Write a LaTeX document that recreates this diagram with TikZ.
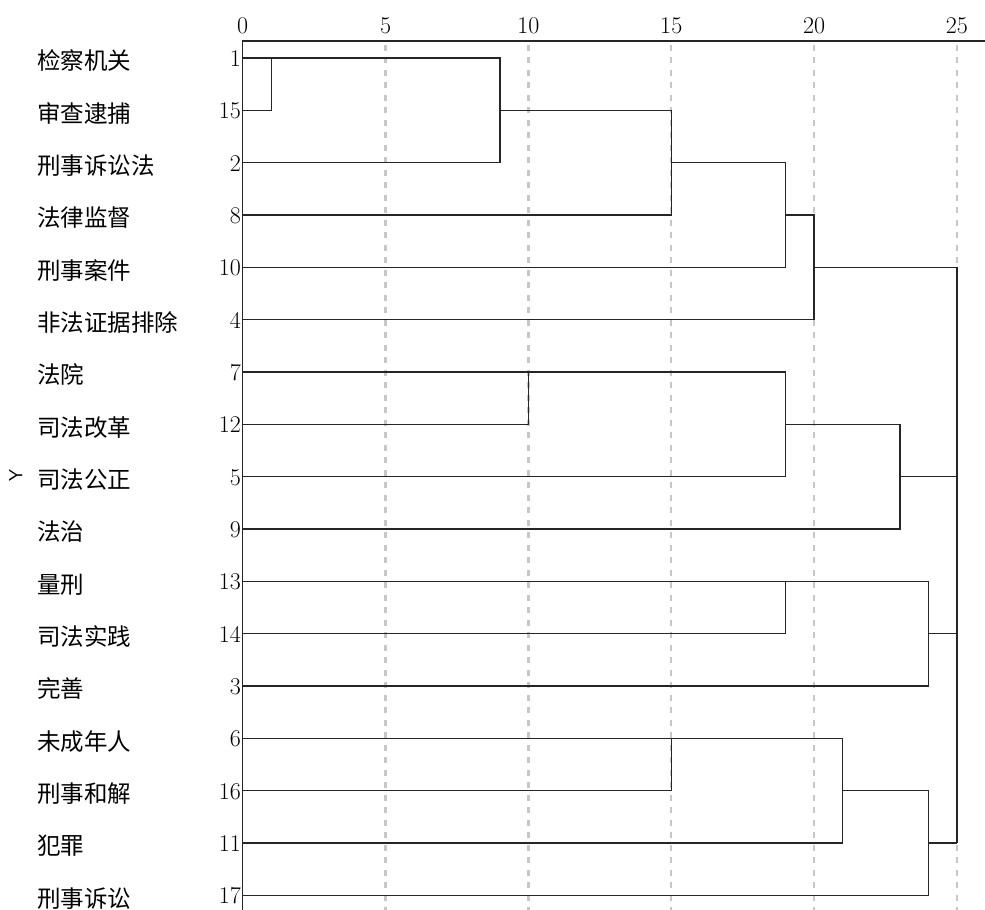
\documentclass[tikz,border=0pt]{standalone}
\usepackage{fontspec}
\newfontfamily\cjk{Noto Sans CJK SC}
\begin{document}
\begin{tikzpicture}[x=28.571pt, y=-52.333pt,
  link/.style={line width=1.5pt, draw=black!85},
  grid/.style={line width=2.2pt, draw=black!22, dash pattern=on 6pt off 6.5pt},
  axisline/.style={line width=1.6pt, draw=black!85},
  num/.style={anchor=base east, inner sep=0pt, font=\fontsize{24}{28}\selectfont},
  term/.style={anchor=base west, inner sep=0pt, font=\cjk\fontsize{23.5}{27}\selectfont},
  tick/.style={anchor=base, inner sep=0pt, font=\fontsize{24}{28}\selectfont}]
\useasboundingbox (-8.494,-1.108) rectangle (25.981,16.280);
% dashed grid
\foreach \k in {5,10,15,20,25} \draw[grid] (\k,-0.25) -- (\k,16.28);
% axis
\foreach \k in {0,5,10,15,20,25} \node[tick] (t\k) at (\k,-0.47) {\k};
\draw[axisline] (0,16.28) -- (0,-0.325) -- (25.981,-0.325);
% leaves
\foreach \r/\n/\t in {0/1/检察机关,1/15/审查逮捕,2/2/刑事诉讼法,3/8/法律监督,4/10/刑事案件,5/4/非法证据排除,6/7/法院,7/12/司法改革,8/5/司法公正,9/9/法治,10/13/量刑,11/14/司法实践,12/3/完善,13/6/未成年人,14/16/刑事和解,15/11/犯罪,16/17/刑事诉讼}{
  \coordinate (L\r) at (0,\r);
  \node[num] (n\n) at ([xshift=-1.5pt]0,\r+0.16) {\n};
  \node[term] (w\n) at (-7.2,\r+0.225) {\t};
}
\node[rotate=90, inner sep=0pt, font=\sffamily\fontsize{19}{21}\selectfont] (yl) at (-7.94,7.98) {Y};
% dendrogram
\draw[link] (L1) -- (1,1) -- (1,0);
\draw[link] (L0) -- (9,0) -- (9,2) -- (L2);
\draw[link] (9,1) -- (15,1) -- (15,3) -- (L3);
\draw[link] (15,2) -- (19,2) -- (19,4) -- (L4);
\draw[link] (19,3) -- (20,3) -- (20,5) -- (L5);
\draw[link] (20,4) -- (25,4) -- (25,15);
\draw[link] (L6) -- (10,6) -- (10,7) -- (L7);
\draw[link] (10,6) -- (19,6) -- (19,8) -- (L8);
\draw[link] (19,7) -- (23,7) -- (23,9) -- (L9);
\draw[link] (23,8) -- (25,8);
\draw[link] (L10) -- (24,10) -- (24,12) -- (L12);
\draw[link] (19,10) -- (19,11) -- (L11);
\draw[link] (24,11) -- (25,11);
\draw[link] (L13) -- (21,13) -- (21,15) -- (L15);
\draw[link] (15,13) -- (15,14) -- (L14);
\draw[link] (21,14) -- (24,14) -- (24,16) -- (L16);
\draw[link] (24,15) -- (25,15);
\end{tikzpicture}
\end{document}
